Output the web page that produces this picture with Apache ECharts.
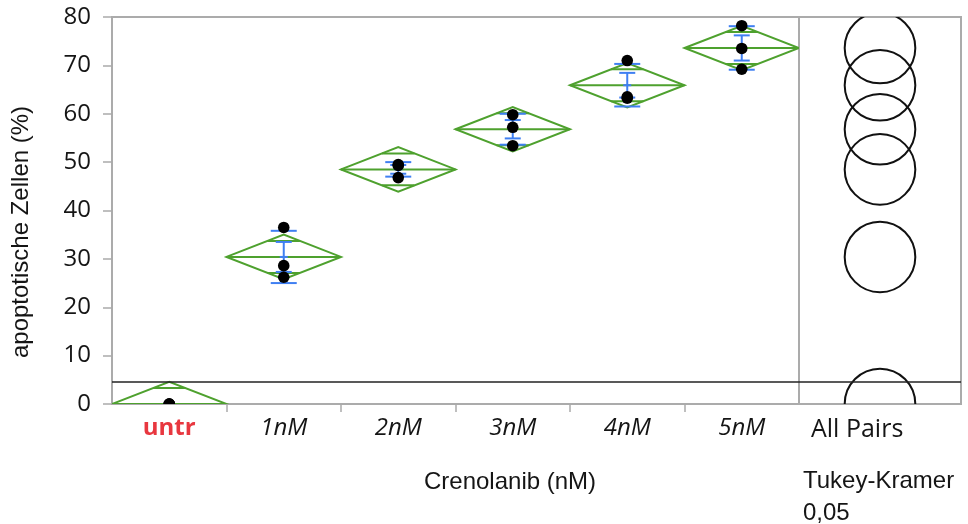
<!DOCTYPE html>
<html>
<head>
<meta charset="utf-8">
<script src="https://cdn.jsdelivr.net/npm/echarts@6/dist/echarts.min.js"></script>
<style>
  html, body { margin: 0; padding: 0; background: #ffffff; }
  #chart { width: 968px; height: 524px; }
</style>
</head>
<body>
<div id="chart"></div>
<script>
// Treatment groups (Crenolanib dose) and the three replicate measurements of each
const groups = ['untr', '1nM', '2nM', '3nM', '4nM', '5nM'];
const replicates = [
  [0, 0, 0],
  [36.5, 28.6, 26.2],
  [49.5, 49.3, 46.8],
  [59.8, 57.2, 53.4],
  [71.0, 63.5, 63.2],
  [78.2, 73.5, 69.2]
];
// Group summaries: mean, standard deviation, standard error of the mean
const groupMeans = [0, 30.4, 48.5, 56.8, 65.9, 73.6];
const groupSD = [0, 5.4, 1.5, 3.2, 4.4, 4.5];
const groupSE = [0, 3.1, 0.9, 1.9, 2.55, 2.6];
// Means diamonds: 95% CI half-height and overlap-mark offset
const ciHalf = 4.6;
const overlapHalf = 3.3;
// Horizontal reference line
const refLevel = 4.6;
// Tukey-Kramer comparison circle radius (response units)
const circleRadius = 7.3;
// Y axis range and tick step
const yMin = 0, yMax = 80, yStep = 10;
// Separator ticks between neighbouring groups (in group-index units)
const groupBoundaries = [1, 2, 3, 4, 5];

const GREEN = '#4ea12e';
const BLUE = '#3f7ff2';
const FRAME = '#ababab';
const TEXT = '#151515';
const LABEL_FONT = '"Open Sans", "Noto Sans", sans-serif';
const TITLE_FONT = '"Liberation Sans", Arial, sans-serif';

const chart = echarts.init(document.getElementById('chart'));

function diamondItem(params, api) {
  const i = api.value(0);
  const m = groupMeans[i];
  const c = api.coord([i, m]);
  const w = api.size([1, 0])[0];
  const top = api.coord([i, m + ciHalf])[1];
  const bot = api.coord([i, m - ciHalf])[1];
  const L = c[0] - w / 2, R = c[0] + w / 2;
  const frac = 1 - overlapHalf / ciHalf;
  const hw = frac * w / 2;
  const oTop = api.coord([i, m + overlapHalf])[1];
  const oBot = api.coord([i, m - overlapHalf])[1];
  const style = { stroke: GREEN, lineWidth: 2, fill: null };
  return {
    type: 'group',
    children: [
      { type: 'polygon', shape: { points: [[L, c[1]], [c[0], top], [R, c[1]], [c[0], bot]] }, style },
      { type: 'line', shape: { x1: L, y1: c[1], x2: R, y2: c[1] }, style },
      { type: 'line', shape: { x1: c[0] - hw, y1: oTop, x2: c[0] + hw, y2: oTop }, style },
      { type: 'line', shape: { x1: c[0] - hw, y1: oBot, x2: c[0] + hw, y2: oBot }, style }
    ]
  };
}

function errorItem(params, api) {
  const i = api.value(0);
  const m = groupMeans[i], sd = groupSD[i], se = groupSE[i];
  if (sd <= 0) return { type: 'group', children: [] };
  const x = api.coord([i, m])[0];
  const sdT = api.coord([i, m + sd])[1], sdB = api.coord([i, m - sd])[1];
  const seT = api.coord([i, m + se])[1], seB = api.coord([i, m - se])[1];
  const my = api.coord([i, m])[1];
  const style = { stroke: BLUE, lineWidth: 2 };
  const sdW = 13, seW = 8;
  return {
    type: 'group',
    children: [
      { type: 'line', shape: { x1: x - sdW, y1: sdT, x2: x + sdW, y2: sdT }, style },
      { type: 'line', shape: { x1: x - sdW, y1: sdB, x2: x + sdW, y2: sdB }, style },
      { type: 'line', shape: { x1: x, y1: seT, x2: x, y2: seB }, style },
      { type: 'line', shape: { x1: x - seW, y1: seT, x2: x + seW, y2: seT }, style },
      { type: 'line', shape: { x1: x - seW, y1: seB, x2: x + seW, y2: seB }, style },
      { type: 'line', shape: { x1: x - 4, y1: my, x2: x + 4, y2: my }, style }
    ]
  };
}

// Replicate dots, clipped to the plotting area
function dotItem(params, api) {
  const p = api.coord([api.value(0), api.value(1)]);
  return {
    type: 'circle',
    shape: { cx: p[0], cy: p[1], r: 5.8 },
    style: { fill: '#000000', stroke: null }
  };
}

function circleItem(params, api) {
  const i = api.value(0);
  const c = api.coord([0, groupMeans[i]]);
  const r = api.size([0, circleRadius])[1];
  return {
    type: 'circle',
    shape: { cx: c[0], cy: c[1], r: r },
    style: { stroke: '#111111', lineWidth: 2, fill: null }
  };
}

const dotData = [];
replicates.forEach((vals, i) => vals.forEach(v => dotData.push([i, v])));

const indexData = groups.map((g, i) => [i]);

const refMark = {
  silent: true,
  symbol: 'none',
  label: { show: false },
  lineStyle: { color: '#222222', width: 1.5, type: 'solid' },
  data: [{ yAxis: refLevel }]
};

chart.setOption({
  animation: false,
  backgroundColor: '#ffffff',
  grid: [
    { left: 112, top: 17, width: 687, height: 387, show: true, borderColor: FRAME, borderWidth: 2, backgroundColor: 'transparent' },
    { left: 799, top: 17, width: 162, height: 387, show: true, borderColor: FRAME, borderWidth: 2, backgroundColor: 'transparent' }
  ],
  xAxis: [
    {
      type: 'category', gridIndex: 0, data: groups, boundaryGap: true,
      axisLine: { show: false },
      axisTick: { show: false },
      axisLabel: {
        margin: 12,
        formatter: v => v === 'untr' ? '{r|untr}' : '{i|' + v + '}',
        rich: {
          r: { color: '#e8373f', fontWeight: 'bold', fontSize: 24, fontFamily: LABEL_FONT },
          i: { color: TEXT, fontStyle: 'italic', fontSize: 24, fontFamily: LABEL_FONT }
        }
      },
      splitLine: { show: false }
    },
    {
      type: 'category', gridIndex: 1, data: ['All Pairs'], boundaryGap: true,
      axisLine: { show: false }, axisTick: { show: false }, axisLabel: { show: false }, splitLine: { show: false }
    },
    {
      // tick marks between neighbouring groups
      type: 'value', gridIndex: 0, min: 0, max: groups.length, position: 'bottom',
      axisLine: { show: false },
      axisTick: { show: true, length: 8, customValues: groupBoundaries, lineStyle: { color: FRAME, width: 1.5 } },
      axisLabel: { show: false },
      splitLine: { show: false }
    }
  ],
  yAxis: [
    {
      type: 'value', gridIndex: 0, min: yMin, max: yMax, interval: yStep,
      axisLine: { show: false },
      axisTick: { show: true, length: 9, lineStyle: { color: FRAME, width: 1.5 } },
      axisLabel: { margin: 21, color: TEXT, fontSize: 24, fontFamily: LABEL_FONT },
      splitLine: { show: false }
    },
    {
      type: 'value', gridIndex: 1, min: yMin, max: yMax, interval: yStep,
      axisLine: { show: false }, axisTick: { show: false }, axisLabel: { show: false }, splitLine: { show: false }
    }
  ],
  series: [
    {
      type: 'custom', xAxisIndex: 0, yAxisIndex: 0, clip: true,
      renderItem: diamondItem, data: indexData, silent: true, z: 2,
      markLine: refMark
    },
    {
      type: 'custom', xAxisIndex: 0, yAxisIndex: 0, clip: true,
      renderItem: errorItem, data: indexData, silent: true, z: 3
    },
    {
      type: 'custom', xAxisIndex: 0, yAxisIndex: 0, clip: true,
      renderItem: dotItem, data: dotData, silent: true, z: 4
    },
    {
      type: 'custom', xAxisIndex: 1, yAxisIndex: 1, clip: true,
      renderItem: circleItem, data: indexData, silent: true, z: 2,
      markLine: refMark
    }
  ],
  graphic: [
    {
      type: 'text', x: 21, y: 232, rotation: Math.PI / 2,
      style: { text: 'apoptotische Zellen (%)', fill: TEXT, font: '24px ' + TITLE_FONT, textAlign: 'center', textVerticalAlign: 'middle' }
    },
    {
      type: 'text', x: 424, y: 482,
      style: { text: 'Crenolanib (nM)', fill: TEXT, font: '24px ' + TITLE_FONT, textAlign: 'left', textVerticalAlign: 'middle' }
    },
    {
      type: 'text', x: 811, y: 430,
      style: { text: 'All Pairs', fill: TEXT, font: '25px ' + LABEL_FONT, textAlign: 'left', textVerticalAlign: 'middle' }
    },
    {
      type: 'text', x: 803, y: 481,
      style: { text: 'Tukey-Kramer', fill: TEXT, font: '24px ' + TITLE_FONT, textAlign: 'left', textVerticalAlign: 'middle' }
    },
    {
      type: 'text', x: 803, y: 513,
      style: { text: '0,05', fill: TEXT, font: '24px ' + TITLE_FONT, textAlign: 'left', textVerticalAlign: 'middle' }
    }
  ]
});
</script>
</body>
</html>
